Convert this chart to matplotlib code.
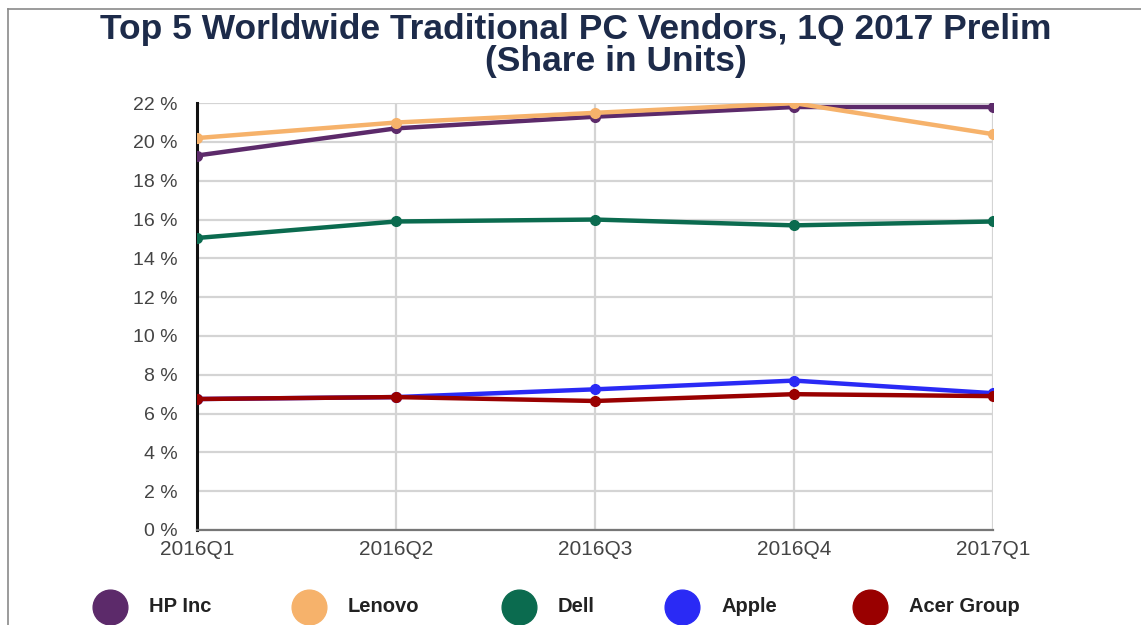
import matplotlib.pyplot as plt
from matplotlib.lines import Line2D

# Datos (porcentaje de unidades)
trimestres = ["2016Q1", "2016Q2", "2016Q3", "2016Q4", "2017Q1"]
hp = [19.3, 20.7, 21.3, 21.8, 21.8]
lenovo = [20.2, 21.0, 21.5, 22.0, 20.4]
dell = [15.05, 15.9, 16.0, 15.7, 15.9]
apple = [6.75, 6.85, 7.25, 7.7, 7.05]
acer = [6.75, 6.85, 6.65, 7.0, 6.9]

nombres = ["HP Inc", "Lenovo", "Dell", "Apple", "Acer Group"]
colores = ["#5c2a6a", "#f6b26b", "#0b6b4f", "#2a2af5", "#990000"]
series = [hp, lenovo, dell, apple, acer]

yticks = list(range(0, 23, 2))

plt.rcParams['font.family'] = ['Liberation Sans', 'DejaVu Sans']

fig = plt.figure(figsize=(11.41, 6.25), dpi=100)
ax = fig.add_axes([0.1727, 0.152, 0.6977, 0.683])

x = list(range(len(trimestres)))
for vals, col in zip(series, colores):
    ax.plot(x, vals, color=col, linewidth=3.2, marker='o', markersize=7,
            solid_capstyle='round', zorder=3)

ax.set_xlim(0, len(trimestres) - 1)
ax.set_ylim(0, 22)
ax.set_xticks(x)
ax.set_xticklabels(trimestres, fontsize=15, color='#444444')
ax.set_yticks(yticks)
ax.set_yticklabels([f"{v} %" for v in yticks], fontsize=14, color='#444444')
ax.tick_params(length=0)
ax.tick_params(axis='y', pad=14)
ax.tick_params(axis='x', pad=7)

ax.grid(True, color='#d4d4d4', linewidth=1.6)
ax.set_axisbelow(True)
for s in ['top', 'right']:
    ax.spines[s].set_visible(False)
ax.spines['left'].set_color('#111111')
ax.spines['left'].set_linewidth(2.2)
ax.spines['bottom'].set_color('#777777')
ax.spines['bottom'].set_linewidth(1.6)

# Titulo
fig.text(0.505, 0.952, "Top 5 Worldwide Traditional PC Vendors, 1Q 2017 Prelim",
         ha='center', va='center', fontsize=25.5, fontweight='bold', color='#1d2b4a')
fig.text(0.54, 0.901, "(Share in Units)", ha='center', va='center',
         fontsize=25.5, fontweight='bold', color='#1d2b4a')

# Leyenda (colocada a mano)
ley_x = [110, 309, 519, 682, 870]
ley_y = 1 - 607 / 625
for px, nom, col in zip(ley_x, nombres, colores):
    fig.add_artist(Line2D([px / 1141], [ley_y], linestyle='', marker='o',
                          markersize=25, color=col, transform=fig.transFigure))
    fig.text((px + 39) / 1141, ley_y, nom, ha='left', va='center',
             fontsize=14.5, fontweight='bold', color='#222222')

# Marco gris superior e izquierdo
fig.add_artist(Line2D([0.007, 1.0], [0.985, 0.985], color='#8a8a8a', linewidth=1.2,
                      transform=fig.transFigure))
fig.add_artist(Line2D([0.007, 0.007], [0.0, 0.985], color='#8a8a8a', linewidth=1.2,
                      transform=fig.transFigure))

fig.savefig("out.png", dpi=100)
